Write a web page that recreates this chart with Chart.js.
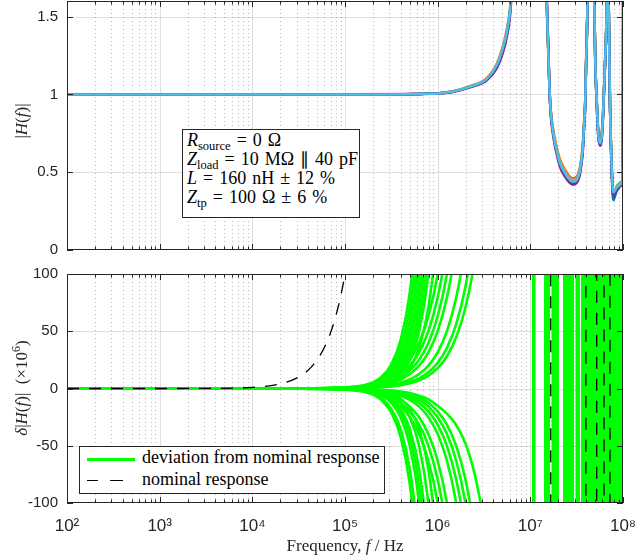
<!DOCTYPE html>
<html><head><meta charset="utf-8">
<script src="https://cdn.jsdelivr.net/npm/chart.js@4"></script>
<style>
html,body{margin:0;padding:0;background:#fff;}
#wrap{position:relative;width:635px;height:556px;overflow:hidden;background:#fff;}
canvas{position:absolute;left:0;}
#c1{top:0;} #c2{top:260px;}
.box{position:absolute;background:#fff;border:1px solid #262626;box-sizing:border-box;font-family:'Liberation Serif',serif;color:#000;font-size:18px;line-height:19px;white-space:nowrap;}
.sb{font-size:12.5px;position:relative;top:4px;line-height:0;}
#anno{word-spacing:1.5px;}
</style></head>
<body><div id="wrap">
<canvas id="c1" width="635" height="260"></canvas>
<canvas id="c2" width="635" height="296"></canvas>
<div class="box" id="anno" style="left:182px;top:129px;width:178px;height:89px;padding:1px 0 0 4px;">
<div><i>R</i><span class="sb">source</span> = 0 Ω</div>
<div><i>Z</i><span class="sb">load</span> = 10 MΩ ∥ 40 pF</div>
<div><i>L</i> = 160 nH ± 12 %</div>
<div><i>Z</i><span class="sb">tp</span> = 100 Ω ± 6 %</div>
</div>
<div class="box" style="left:79px;top:446px;width:306px;height:48px;">
<div style="position:absolute;left:7px;top:11px;width:48px;height:3px;background:#00ff00"></div>
<div style="position:absolute;left:62px;top:1px;">deviation from nominal response</div>
<div style="position:absolute;left:7px;top:33px;width:11px;height:1.4px;background:#000"></div>
<div style="position:absolute;left:30px;top:33px;width:13px;height:1.4px;background:#000"></div>
<div style="position:absolute;left:62px;top:23px;">nominal response</div>
</div>
</div>
<script>
// ---------- data ----------
const xTicks = [1e2, 1e3, 1e4, 1e5, 1e6, 1e7, 1e8];
const xTickLabels = ['10²', '10³', '10⁴', '10⁵', '10⁶', '10⁷', '10⁸'];
const yTicksTop = [0, 0.5, 1, 1.5];
const yTicksBottom = [-100, -50, 0, 50, 100];

// top panel: |H(f)| of Monte-Carlo runs
const topFreq = [1e2, 1e5, 6.46e5, 1e6, 1.46e6, 2.24e6, 3.39e6, 4.37e6, 5.01e6, 5.62e6, 6.17e6,
  1e7,
  1.50e7, 1.56e7, 1.63e7, 1.77e7, 1.92e7, 2.09e7, 2.37e7, 2.68e7, 2.90e7, 3.16e7, 3.44e7, 3.67e7, 3.79e7, 3.92e7, 3.99e7, 4.08e7, 4.15e7,
  4.47e7,
  4.90e7, 5.02e7, 5.20e7, 5.41e7, 5.65e7, 5.89e7, 6.12e7, 6.38e7, 6.67e7,
  6.84e7,
  7.00e7, 7.23e7, 7.55e7, 7.85e7, 8.55e7, 9.27e7, 9.75e7, 9.9e7, 1e8];
const magLightBlue = [1, 1, 1.003, 1.006, 1.018, 1.05, 1.10, 1.19, 1.29, 1.41, 1.61,
  5,
  1.61, 1.29, 0.964, 0.75, 0.643, 0.557, 0.493, 0.45, 0.439, 0.45, 0.514, 0.643, 0.79, 0.964, 1.18, 1.39, 1.61,
  3,
  1.61, 1.22, 0.964, 0.75, 0.686, 0.728, 0.90, 1.18, 1.61,
  2.5,
  1.61, 0.96, 0.536, 0.37, 0.40, 0.42, 0.43, 0.43, 0.43];
const magPurple = [1, 1, 1.002, 1.005, 1.015, 1.045, 1.09, 1.17, 1.26, 1.38, 1.58,
  5,
  1.65, 1.32, 0.95, 0.73, 0.62, 0.535, 0.47, 0.43, 0.42, 0.43, 0.49, 0.62, 0.77, 0.95, 1.17, 1.38, 1.62,
  3,
  1.62, 1.2, 0.95, 0.73, 0.67, 0.71, 0.88, 1.16, 1.6,
  2.5,
  1.62, 0.95, 0.52, 0.35, 0.38, 0.41, 0.42, 0.41, 0.41];
const magBlue = [1, 1, 1.003, 1.006, 1.017, 1.048, 1.095, 1.18, 1.28, 1.4, 1.6,
  5,
  1.63, 1.3, 0.957, 0.74, 0.632, 0.546, 0.482, 0.44, 0.43, 0.44, 0.503, 0.632, 0.78, 0.957, 1.175, 1.385, 1.615,
  3,
  1.615, 1.21, 0.957, 0.74, 0.676, 0.718, 0.89, 1.17, 1.605,
  2.5,
  1.615, 0.94, 0.5, 0.32, 0.38, 0.41, 0.42, 0.41, 0.41];
const magGreen = [1, 1, 1.003, 1.006, 1.018, 1.05, 1.1, 1.19, 1.29, 1.41, 1.61,
  5,
  1.61, 1.29, 0.962, 0.752, 0.645, 0.56, 0.496, 0.452, 0.442, 0.452, 0.516, 0.645, 0.792, 0.966, 1.182, 1.392, 1.61,
  3,
  1.61, 1.222, 0.966, 0.752, 0.69, 0.73, 0.902, 1.182, 1.61,
  2.5,
  1.61, 0.965, 0.545, 0.36, 0.41, 0.43, 0.44, 0.44, 0.47];
const magYellow = [1, 1, 1.003, 1.006, 1.019, 1.052, 1.103, 1.195, 1.295, 1.42, 1.62,
  5,
  1.6, 1.28, 0.968, 0.76, 0.655, 0.57, 0.505, 0.46, 0.45, 0.46, 0.525, 0.655, 0.8, 0.972, 1.19, 1.4, 1.615,
  3,
  1.605, 1.225, 0.97, 0.765, 0.70, 0.74, 0.91, 1.185, 1.61,
  2.5,
  1.605, 0.955, 0.53, 0.34, 0.39, 0.41, 0.42, 0.42, 0.55];
const magOrange = [1, 1, 1.003, 1.007, 1.02, 1.053, 1.105, 1.2, 1.3, 1.43, 1.63,
  5,
  1.58, 1.27, 0.97, 0.77, 0.665, 0.58, 0.515, 0.47, 0.46, 0.47, 0.535, 0.665, 0.81, 0.98, 1.2, 1.41, 1.62,
  3,
  1.6, 1.22, 0.97, 0.77, 0.70, 0.745, 0.915, 1.19, 1.61,
  2.5,
  1.6, 0.95, 0.52, 0.34, 0.39, 0.41, 0.42, 0.42, 1.43];
const magDarkRed = [1, 1, 1.003, 1.006, 1.018, 1.05, 1.1, 1.19, 1.29, 1.41, 1.61,
  5,
  1.61, 1.29, 0.964, 0.75, 0.645, 0.558, 0.494, 0.451, 0.44, 0.451, 0.515, 0.645, 0.79, 0.964, 1.18, 1.39, 1.61,
  3,
  1.61, 1.22, 0.964, 0.75, 0.687, 0.729, 0.9, 1.18, 1.61,
  2.5,
  1.61, 0.96, 0.536, 0.36, 0.40, 0.42, 0.43, 0.43, 2.0];

// bottom panel: deviation from nominal (x1e6)
const devFreq = [1e2, 1e4, 3.162e4, 1e5, 1.259e5, 1.585e5, 1.995e5, 2.512e5, 3.162e5, 3.981e5, 5.012e5,
  6.31e5, 7.943e5, 1e6, 1.259e6, 1.585e6, 1.995e6, 2.512e6, 3.162e6];
const devUp = [
  [0,0,0,0.7,1.3,2.7,5.3,10.6,21.1,42.2,84.1,168,335],
  [0,0,0,0.6,1.1,2.2,4.5,8.9,17.8,35.5,70.8,141,282],
  [0,0,0,0.5,0.9,1.9,3.8,7.5,15,29.9,59.6,119,237],
  [0,0,0,0.4,0.8,1.6,3.2,6.3,12.6,25.1,50.1,100,200],
  [0,0,0,0.3,0.7,1.3,2.7,5.3,10.6,21.1,42.2,84.1,168,335],
  [0,0,0,0.3,0.6,1.1,2.2,4.5,8.9,17.8,35.5,70.8,141,282],
  [0,0,0,0.2,0.5,0.9,1.9,3.8,7.5,15,29.9,59.6,119,237],
  [0,0,0,0.2,0.4,0.8,1.6,3.2,6.3,12.6,25.1,50.1,100,200],
  [0,0,0,0.1,0.3,0.6,1.1,2.2,4.5,8.9,17.8,35.5,70.8,141,282],
  [0,0,0.1,1.0,1.6,2.5,4.0,6.3,10,15.8,25.1,39.8,63.1,100,158,251],
  [0,0,0.1,0.8,1.3,2.0,3.2,5.0,7.9,12.6,20,31.6,50.1,79.4,126,200],
  [0,0,0,0.6,1.0,1.6,2.5,4.0,6.3,10,15.8,25.1,39.8,63.1,100,158,251],
  [0,0,0,0.5,0.8,1.3,2.0,3.2,5.0,7.9,12.6,20,31.6,50.1,79.4,126,200],
  [0,0,0,0.3,0.5,0.8,1.3,2.0,3.2,5.0,7.9,12.6,20,31.6,50.1,79.4,126,200],
  [0,0,0,0.2,0.4,0.6,0.9,1.4,2.2,3.5,5.6,8.9,14.1,22.4,35.5,56.2,89.1,141,224],
  [0,0,0,0.2,0.3,0.5,0.7,1.1,1.8,2.8,4.5,7.1,11.2,17.8,28.2,44.7,70.8,112,178]
];
const devDown = [
  [0,0,0,-0.7,-1.3,-2.7,-5.3,-10.6,-21.1,-42.2,-84.1,-168,-335],
  [0,0,0,-0.6,-1.1,-2.2,-4.5,-8.9,-17.8,-35.5,-70.8,-141,-282],
  [0,0,0,-0.4,-0.8,-1.6,-3.2,-6.3,-12.6,-25.1,-50.1,-100,-200],
  [0,0,0,-0.3,-0.7,-1.3,-2.7,-5.3,-10.6,-21.1,-42.2,-84.1,-168,-335],
  [0,0,0,-0.3,-0.6,-1.1,-2.2,-4.5,-8.9,-17.8,-35.5,-70.8,-141,-282],
  [0,0,0,-0.2,-0.4,-0.8,-1.6,-3.2,-6.3,-12.6,-25.1,-50.1,-100,-200],
  [0,0,0,-0.1,-0.3,-0.6,-1.1,-2.2,-4.5,-8.9,-17.8,-35.5,-70.8,-141,-282],
  [0,0,-0.1,-1.0,-1.6,-2.5,-4.0,-6.3,-10,-15.8,-25.1,-39.8,-63.1,-100,-158,-251],
  [0,0,-0.1,-0.8,-1.3,-2.0,-3.2,-5.0,-7.9,-12.6,-20,-31.6,-50.1,-79.4,-126,-200],
  [0,0,0,-0.6,-1.0,-1.6,-2.5,-4.0,-6.3,-10,-15.8,-25.1,-39.8,-63.1,-100,-158,-251],
  [0,0,0,-0.4,-0.6,-1.0,-1.6,-2.5,-4.0,-6.3,-10,-15.8,-25.1,-39.8,-63.1,-100,-158,-251],
  [0,0,0,-0.3,-0.5,-0.8,-1.3,-2.0,-3.2,-5.0,-7.9,-12.6,-20,-31.6,-50.1,-79.4,-126,-200],
  [0,0,0,-0.3,-0.4,-0.6,-1.0,-1.6,-2.5,-4.0,-6.3,-10,-15.8,-25.1,-39.8,-63.1,-100,-158,-251],
  [0,0,0,-0.2,-0.3,-0.5,-0.8,-1.3,-2.0,-3.2,-5.0,-7.9,-12.6,-20,-31.6,-50.1,-79.4,-126,-200],
  [0,0,0,-0.2,-0.4,-0.6,-0.9,-1.3,-1.8,-2.6,-4,-6.3,-9.5,-15,-22,-32,-48,-75,-115]
];
// above 10 MHz the deviations swing far beyond ±100: frequency ranges where they cover the axis
const devOffScaleBands = [[1.034e7, 1.145e7], [1.404e7, 1.638e7], [1.683e7, 2.038e7], [2.251e7, 2.981e7], [3.056e7, 3.435e7], [3.521e7, 1e8]];
const devOffScaleValue = 1000;

// nominal response (x1e6)
const nomFreq = [1e2, 1e3, 3e3, 1e4, 2e4, 3e4, 4e4, 5e4, 6e4, 7e4, 8e4, 9e4, 1e5, 1.2e5, 1e6,
  1.655e7, 1.665e7, 3.97e7, 3.99e7, 5.19e7, 5.21e7, 6.23e7, 6.25e7, 7.23e7, 7.25e7, 1e8];
const nomValues = [0, 0, 0.1, 1, 4, 9, 16, 25, 36, 49, 64, 81, 100, 144, 1000,
  1000, -1000, -1000, 1000, 1000, -1000, -1000, 1000, 1000, -1000, -1000];

// ---------- helpers ----------
const TXT = '#262626';
const tickFont = {family: "'Liberation Sans', Arial, sans-serif", size: 15};
const serif = "'Liberation Serif', serif";
const FN = '17px ' + serif, FI = 'italic 17px ' + serif, FS = '12px ' + serif;

function drawRich(ctx, parts, cx, cy, rot) {
  ctx.save();
  ctx.translate(cx, cy);
  if (rot) ctx.rotate(rot);
  let w = 0;
  parts.forEach(p => { ctx.font = p.font; p.w = ctx.measureText(p.t).width; w += p.w; });
  let xx = -w / 2;
  ctx.fillStyle = TXT; ctx.textBaseline = 'alphabetic'; ctx.textAlign = 'left';
  parts.forEach(p => { ctx.font = p.font; ctx.fillText(p.t, xx, p.dy || 0); xx += p.w; });
  ctx.restore();
}

function axesPlugin(yTickVals, titles) {
  return {
    id: 'matlabAxes',
    beforeDatasetsDraw(chart) {
      const {ctx, chartArea: a, scales: {x, y}} = chart;
      ctx.save();
      ctx.lineWidth = 1;
      ctx.strokeStyle = 'rgba(38,38,38,0.32)';
      ctx.setLineDash([1, 3]);
      ctx.beginPath();
      for (let e = 2; e < 8; e++) for (let k = 2; k < 10; k++) {
        const px = Math.round(x.getPixelForValue(k * Math.pow(10, e))) + 0.5;
        ctx.moveTo(px, a.top); ctx.lineTo(px, a.bottom);
      }
      ctx.stroke();
      ctx.setLineDash([]);
      ctx.strokeStyle = 'rgba(38,38,38,0.15)';
      ctx.beginPath();
      xTicks.slice(1, -1).forEach(v => {
        const px = Math.round(x.getPixelForValue(v)) + 0.5;
        ctx.moveTo(px, a.top); ctx.lineTo(px, a.bottom);
      });
      yTickVals.forEach(v => {
        const py = Math.round(y.getPixelForValue(v)) + 0.5;
        if (py > a.top + 1 && py < a.bottom - 1) { ctx.moveTo(a.left, py); ctx.lineTo(a.right, py); }
      });
      ctx.stroke();
      ctx.restore();
    },
    afterDatasetsDraw(chart) {
      const {ctx, chartArea: a, scales: {x, y}} = chart;
      ctx.save();
      ctx.strokeStyle = TXT; ctx.lineWidth = 1; ctx.setLineDash([]);
      ctx.beginPath();
      for (let e = 2; e <= 8; e++) for (let k = 1; k < 10; k++) {
        const v = k * Math.pow(10, e);
        if (v > 1e8 * 1.0001) break;
        const px = Math.round(x.getPixelForValue(v)) + 0.5;
        const len = k === 1 ? 6 : 3.5;
        ctx.moveTo(px, a.bottom); ctx.lineTo(px, a.bottom - len);
        ctx.moveTo(px, a.top); ctx.lineTo(px, a.top + len);
      }
      yTickVals.forEach(v => {
        const py = Math.round(y.getPixelForValue(v)) + 0.5;
        ctx.moveTo(a.left, py); ctx.lineTo(a.left + 6, py);
        ctx.moveTo(a.right, py); ctx.lineTo(a.right - 6, py);
      });
      ctx.stroke();
      const l = Math.round(a.left) + 0.5, t = Math.round(a.top) + 0.5;
      const r = Math.round(a.right) - 0.5, b = Math.round(a.bottom) - 0.5;
      ctx.strokeRect(l, t, r - l, b - t);
      ctx.restore();
    },
    afterDraw(chart) {
      titles.forEach(tt => drawRich(chart.ctx, tt.parts, tt.x, tt.y, tt.rot));
    }
  };
}

function yScale(min, max, ticksArr) {
  return {
    type: 'linear', min, max,
    afterBuildTicks: s => { s.ticks = ticksArr.map(v => ({value: v})); },
    afterFit: s => { s.width = 67; s.paddingTop = 0; s.paddingBottom = 0; },
    grid: {display: false, drawTicks: false},
    border: {display: false},
    ticks: {padding: 9, color: TXT, font: tickFont, callback: v => String(v)}
  };
}

// ---------- top chart ----------
const topSeries = [
  {name: 'run 6', color: '#4DBEEE', values: magLightBlue},
  {name: 'run 4', color: '#7E2F8E', values: magPurple},
  {name: 'run 1', color: '#0072BD', values: magBlue},
  {name: 'run 5', color: '#77AC30', values: magGreen},
  {name: 'run 3', color: '#EDB120', values: magYellow},
  {name: 'run 2', color: '#D95319', values: magOrange},
  {name: 'run 7', color: '#A2142F', values: magDarkRed}
];

new Chart(document.getElementById('c1'), {
  type: 'line',
  data: {
    datasets: topSeries.map(s => ({
      label: s.name,
      data: topFreq.map((f, i) => ({x: f, y: s.values[i]})),
      borderColor: s.color, borderWidth: 2.5, pointRadius: 0,
      cubicInterpolationMode: 'monotone', fill: false, clip: 0
    }))
  },
  options: {
    responsive: false, animation: false, events: [],
    layout: {padding: {top: 1, right: 12, bottom: 10, left: 0}},
    plugins: {legend: {display: false}, tooltip: {enabled: false}},
    scales: {
      x: {type: 'logarithmic', min: 1e2, max: 1e8, display: false,
          afterFit: s => { s.paddingLeft = 0; s.paddingRight = 0; }},
      y: yScale(0, 1.6, yTicksTop)
    }
  },
  plugins: [axesPlugin(yTicksTop, [
    {parts: [{t: '|', font: FN}, {t: 'H', font: FI}, {t: '(', font: FN}, {t: 'f', font: FI}, {t: ')|', font: FN}],
     x: 27, y: 121, rot: -Math.PI / 2}
  ])]
});

// ---------- bottom chart ----------
const GREEN = '#00FF00';
const bottomSets = [];
bottomSets.push({
  label: 'nominal response',
  data: nomFreq.map((f, i) => ({x: f, y: nomValues[i]})),
  borderColor: '#000', borderWidth: 1.3, borderDash: [12, 10], pointRadius: 0,
  cubicInterpolationMode: 'monotone', fill: false, clip: 0
});
bottomSets.push({
  label: 'deviation from nominal response (off scale)',
  data: devOffScaleBands.flatMap(([a, b]) => [{x: a, y: devOffScaleValue}, {x: b, y: devOffScaleValue}, {x: b, y: null}]),
  borderWidth: 0, borderColor: 'rgba(0,0,0,0)', backgroundColor: GREEN, pointRadius: 0,
  fill: {value: -devOffScaleValue}, spanGaps: false, clip: 0
});
devUp.concat(devDown).forEach((vals, j) => {
  bottomSets.push({
    label: 'deviation ' + (j + 1),
    data: vals.map((v, i) => ({x: devFreq[i], y: v})),
    borderColor: GREEN, borderWidth: 2.6, pointRadius: 0,
    cubicInterpolationMode: 'monotone', fill: false, clip: 0
  });
});

new Chart(document.getElementById('c2'), {
  type: 'line',
  data: {datasets: bottomSets},
  options: {
    responsive: false, animation: false, events: [],
    layout: {padding: {top: 14, right: 12, bottom: 0, left: 0}},
    plugins: {legend: {display: false}, tooltip: {enabled: false}},
    scales: {
      x: {
        type: 'logarithmic', min: 1e2, max: 1e8,
        afterBuildTicks: s => { s.ticks = xTicks.map(v => ({value: v, major: true})); },
        afterFit: s => { s.height = 53; s.paddingLeft = 0; s.paddingRight = 0; },
        grid: {display: false, drawTicks: false},
        border: {display: false},
        ticks: {autoSkip: false, maxRotation: 0, padding: 13, color: TXT,
          font: {family: "'Liberation Sans', Arial, sans-serif", size: 17},
          callback: v => xTickLabels[xTicks.indexOf(v)]}
      },
      y: yScale(-100, 100, yTicksBottom)
    }
  },
  plugins: [axesPlugin(yTicksBottom, [
    {parts: [{t: 'δ', font: FI}, {t: '|', font: FN}, {t: 'H', font: FI}, {t: '(', font: FN}, {t: 'f', font: FI},
             {t: ')|  (×10', font: FN}, {t: '6', font: FS, dy: -7}, {t: ')', font: FN}],
     x: 27, y: 128, rot: -Math.PI / 2},
    {parts: [{t: 'Frequency, ', font: FN}, {t: 'f', font: FI}, {t: ' / Hz', font: FN}], x: 345, y: 291, rot: 0}
  ])]
});
</script>
</body></html>
